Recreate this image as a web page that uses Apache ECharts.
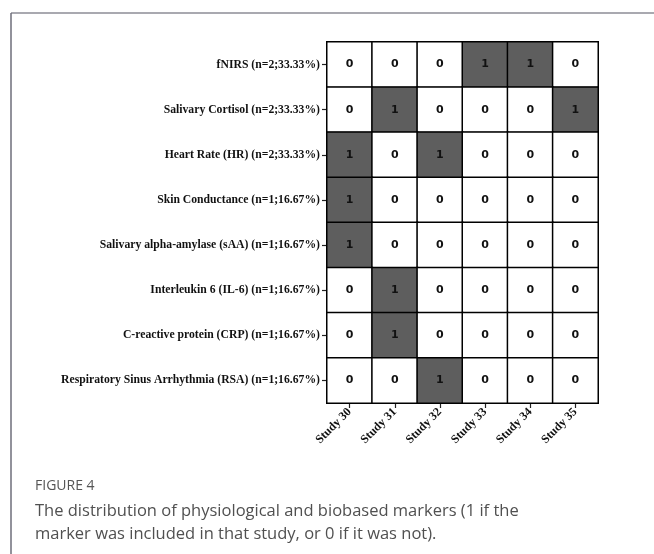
<!DOCTYPE html>
<html>
<head>
<meta charset="utf-8">
<script src="https://cdn.jsdelivr.net/npm/echarts@6/dist/echarts.min.js"></script>
<style>
html,body{margin:0;padding:0;background:#fff;}
#c{width:654px;height:554px;}
</style>
</head>
<body>
<div id="c"></div>
<script>
var studies = ['Study 30','Study 31','Study 32','Study 33','Study 34','Study 35'];
var markers = [
  'fNIRS (n=2;33.33%)',
  'Salivary Cortisol (n=2;33.33%)',
  'Heart Rate (HR) (n=2;33.33%)',
  'Skin Conductance (n=1;16.67%)',
  'Salivary alpha-amylase (sAA) (n=1;16.67%)',
  'Interleukin 6 (IL-6) (n=1;16.67%)',
  'C-reactive protein (CRP) (n=1;16.67%)',
  'Respiratory Sinus Arrhythmia (RSA) (n=1;16.67%)'
];
var rowFNIRS    = [0,0,0,1,1,0];
var rowCortisol = [0,1,0,0,0,1];
var rowHR       = [1,0,1,0,0,0];
var rowSkin     = [1,0,0,0,0,0];
var rowSAA      = [1,0,0,0,0,0];
var rowIL6      = [0,1,0,0,0,0];
var rowCRP      = [0,1,0,0,0,0];
var rowRSA      = [0,0,1,0,0,0];
var matrix = [rowFNIRS,rowCortisol,rowHR,rowSkin,rowSAA,rowIL6,rowCRP,rowRSA];

var data = [];
matrix.forEach(function(row, r){
  row.forEach(function(v, c){ data.push([c, r, v]); });
});

var chart = echarts.init(document.getElementById('c'), null, {renderer:'canvas'});
chart.setOption({
  animation:false,
  backgroundColor:'#fff',
  grid:{left:327, top:42, width:271, height:361, show:true, borderColor:'#000', borderWidth:2, backgroundColor:'transparent'},
  xAxis:{
    type:'category', data:studies, position:'bottom',
    axisLine:{show:true, lineStyle:{color:'#000', width:2}},
    axisTick:{show:true, alignWithLabel:true, length:5, lineStyle:{color:'#222', width:1.2}},
    axisLabel:{rotate:45, margin:7, fontFamily:'Liberation Serif', fontWeight:'bold', fontSize:12, color:'#111'},
    splitLine:{show:false}
  },
  yAxis:{
    type:'category', data:markers, inverse:true,
    axisLine:{show:true, lineStyle:{color:'#000', width:2}},
    axisTick:{show:true, alignWithLabel:true, length:5, lineStyle:{color:'#222', width:1.2}},
    axisLabel:{margin:7, fontFamily:'Liberation Serif', fontWeight:'bold', fontSize:11.7, color:'#111'},
    splitLine:{show:false}
  },
  visualMap:{
    type:'piecewise', show:false, dimension:2,
    pieces:[{value:0, color:'#ffffff'},{value:1, color:'#5e5e5e'}]
  },
  series:[{
    type:'heatmap', data:data,
    itemStyle:{borderColor:'#000', borderWidth:1.5},
    label:{show:true, fontFamily:'DejaVu Sans', fontWeight:'bold', fontSize:11, color:'#111'},
    emphasis:{disabled:true}
  }],
  graphic:[
    {type:'line', shape:{x1:11, y1:13, x2:654, y2:13}, style:{stroke:'#8c8c96', lineWidth:1.5}},
    {type:'line', shape:{x1:11, y1:13, x2:11, y2:554}, style:{stroke:'#6e6e7a', lineWidth:1.5}},
    {type:'text', left:35, top:479, style:{text:'FIGURE 4', font:'14px "Open Sans"', fill:'#555'}},
    {type:'text', left:35, top:500, style:{text:'The distribution of physiological and biobased markers (1 if the\nmarker was included in that study, or 0 if it was not).', font:'16.5px "Open Sans"', lineHeight:23, fill:'#505050'}}
  ]
});
</script>
</body>
</html>
